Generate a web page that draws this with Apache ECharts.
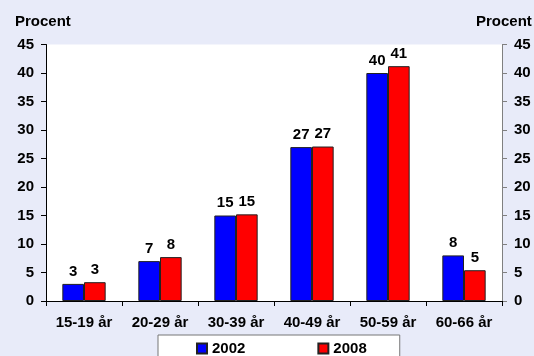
<!DOCTYPE html>
<html>
<head>
<meta charset="utf-8">
<script src="https://cdn.jsdelivr.net/npm/echarts@6/dist/echarts.min.js"></script>
<style>html,body{margin:0;padding:0;background:#E8EBF9;}#c{width:534px;height:356px;}</style>
</head>
<body>
<div id="c"></div>
<script>
var categories = ['15-19 år', '20-29 år', '30-39 år', '40-49 år', '50-59 år', '60-66 år'];
var values2002 = [3.0, 7.0, 15.0, 27.0, 40.0, 8.0];
var values2008 = [3.3, 7.7, 15.2, 27.1, 41.2, 5.4];
var seriesNames = ['2002', '2008'];
var yTicks = { min: 0, max: 45, interval: 5 };
var axisTitle = 'Procent';

var FONT = 'Arial, "Liberation Sans", sans-serif';
var FS = 15;
var chart = echarts.init(document.getElementById('c'), null, { renderer: 'canvas' });
var labelStyle = {
  show: true, position: 'top', distance: 5,
  fontFamily: FONT, fontWeight: 'bold', fontSize: FS, color: '#000',
  formatter: function (p) { return Math.round(p.value); }
};
function yAxis(pos, lineColor) {
  return {
    type: 'value', position: pos, min: yTicks.min, max: yTicks.max, interval: yTicks.interval,
    axisLine: { show: true, lineStyle: { color: lineColor, width: 1 } },
    axisTick: { show: true, inside: false, length: 5, lineStyle: { color: lineColor } },
    splitLine: { show: false },
    axisLabel: { fontFamily: FONT, fontWeight: 'bold', fontSize: FS, color: '#000', margin: 12 }
  };
}
chart.setOption({
  backgroundColor: '#E8EBF9',
  animation: false,
  grid: { left: 46, right: 32, top: 44.5, bottom: 55, show: true, backgroundColor: '#fff', borderWidth: 0 },
  graphic: [
    { type: 'text', left: 15, top: 14, style: { text: axisTitle, font: 'bold ' + FS + 'px ' + FONT, fill: '#000' } },
    { type: 'text', left: 476, top: 14, style: { text: axisTitle, font: 'bold ' + FS + 'px ' + FONT, fill: '#000' } }
  ],
  legend: {
    left: 158, top: 335,
    padding: [6, 33, 10, 38],
    itemGap: 72, itemWidth: 10, itemHeight: 10,
    icon: 'rect',
    backgroundColor: '#fff', borderColor: '#777', borderWidth: 1, borderRadius: 0,
    textStyle: { fontFamily: FONT, fontWeight: 'bold', fontSize: FS, color: '#000' },
    data: seriesNames
  },
  xAxis: {
    type: 'category', data: categories,
    axisLine: { show: true, lineStyle: { color: '#000', width: 1 } },
    axisTick: { show: true, length: 5, lineStyle: { color: '#000' } },
    axisLabel: { interval: 0, fontFamily: FONT, fontWeight: 'bold', fontSize: FS, color: '#000', margin: 14 }
  },
  yAxis: [yAxis('left', '#000'), yAxis('right', '#808080')],
  series: [
    { name: seriesNames[0], type: 'bar', data: values2002, barGap: '0%', barCategoryGap: '43%',
      itemStyle: { color: '#0000FF', borderColor: '#222', borderWidth: 1 }, label: labelStyle },
    { name: seriesNames[1], type: 'bar', data: values2008, barGap: '0%', barCategoryGap: '43%',
      itemStyle: { color: '#FF0000', borderColor: '#222', borderWidth: 1 }, label: labelStyle }
  ]
});
</script>
</body>
</html>
